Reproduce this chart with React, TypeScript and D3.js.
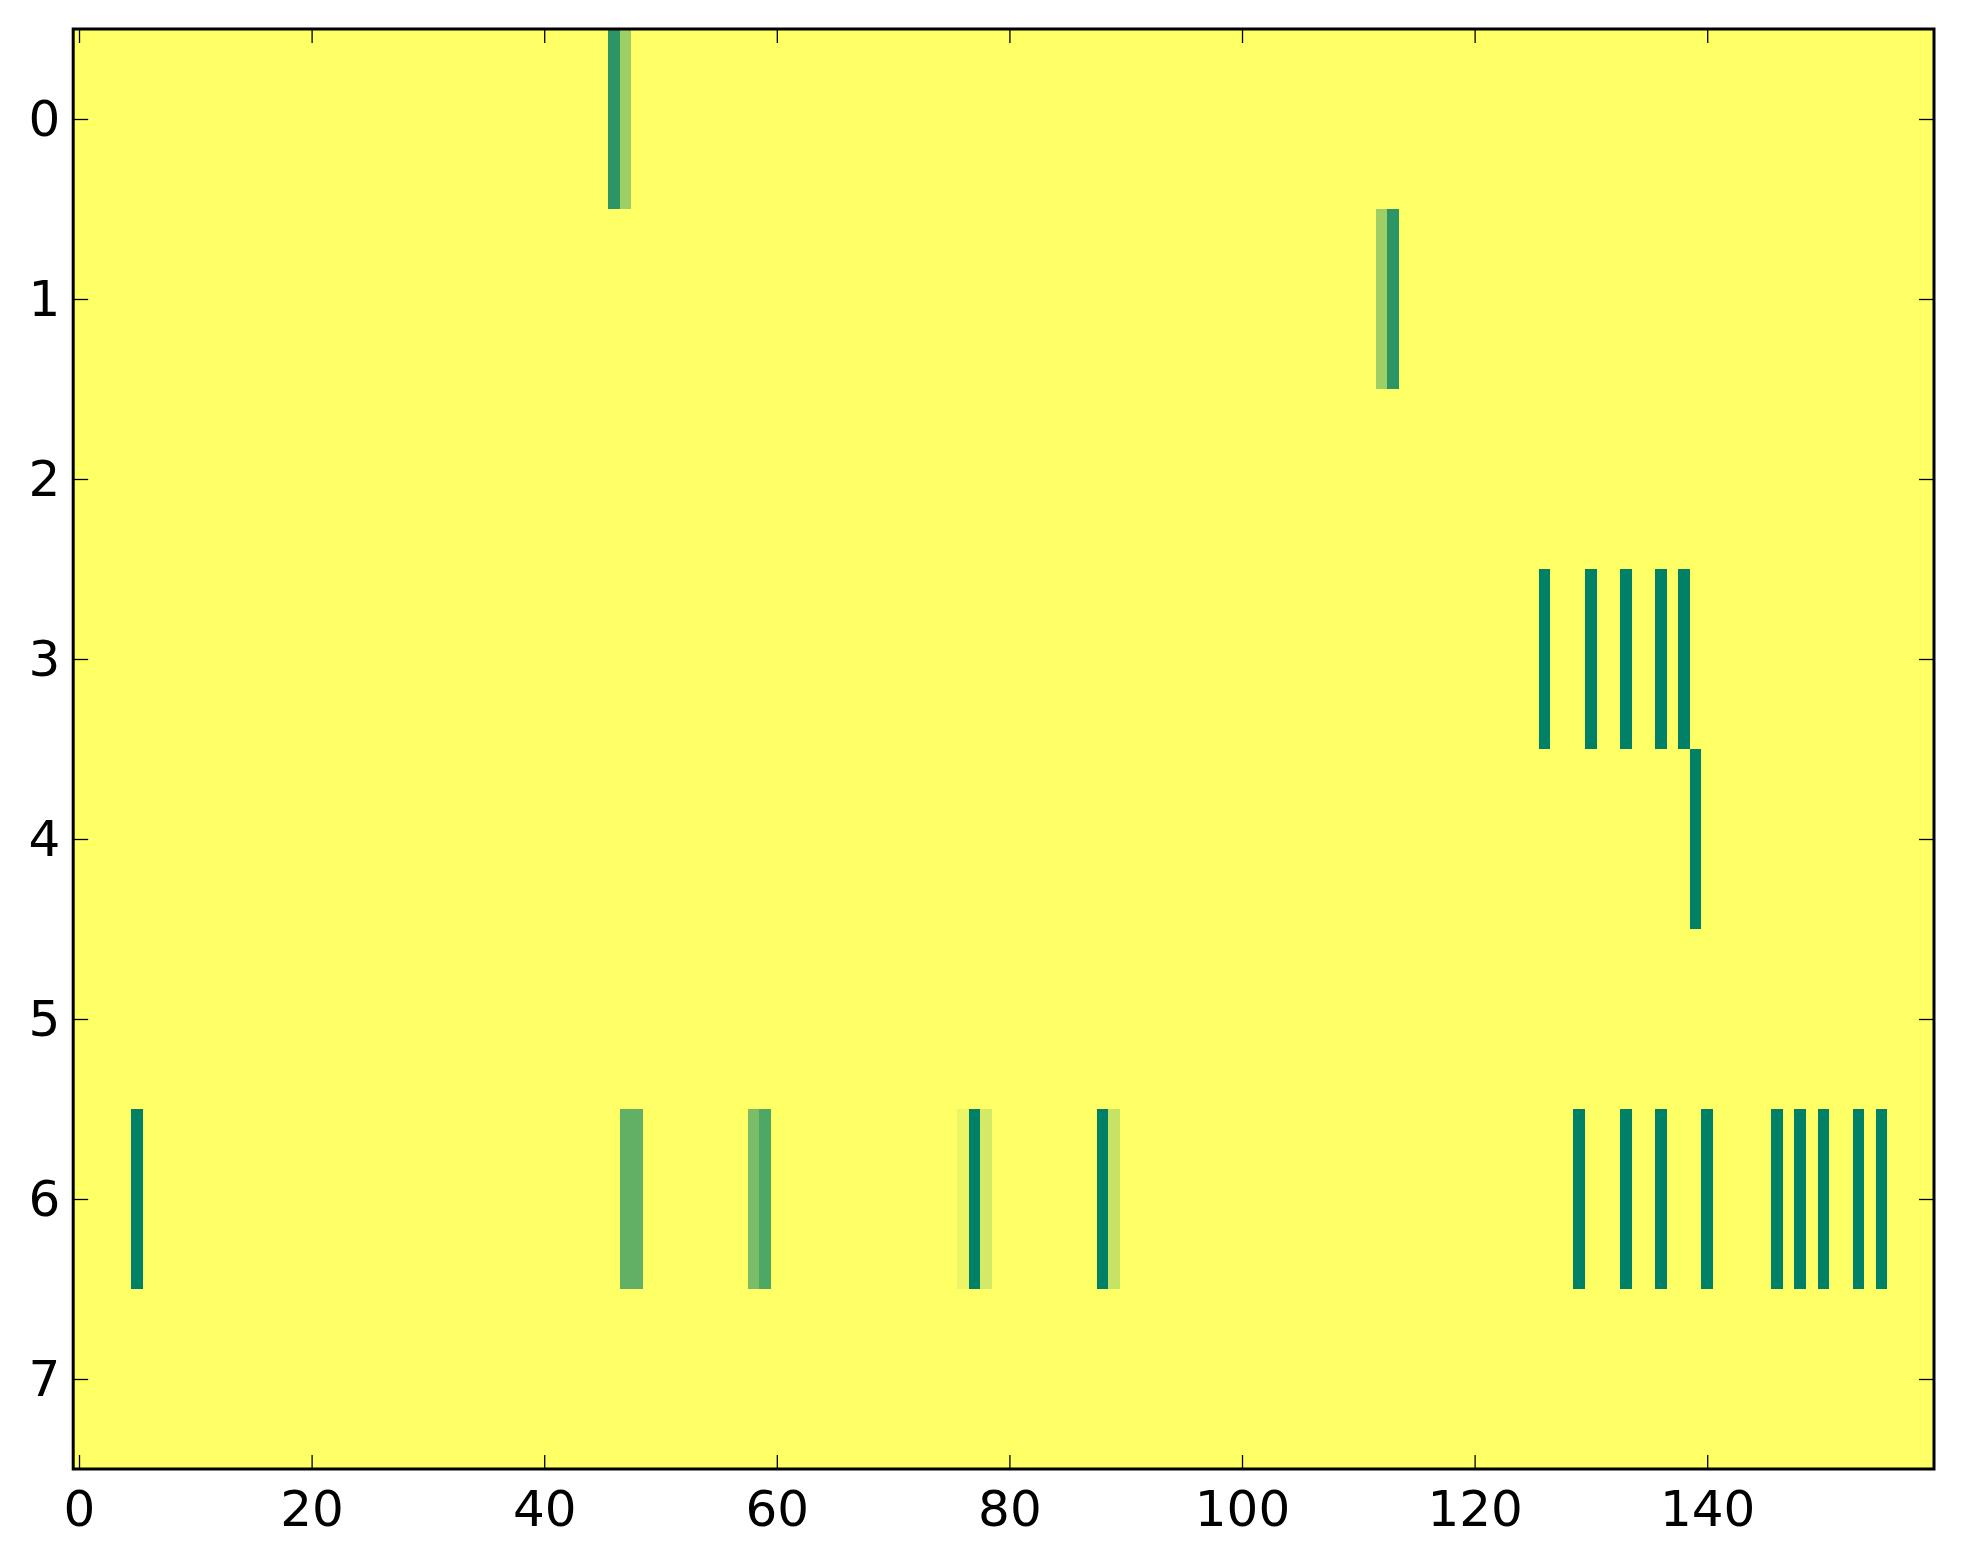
import React, { useEffect, useRef } from 'react';
import * as d3 from 'd3';

// sparse cells of the 8 x 160 matrix; every other cell sits at the max (1)
const nRows = 8;
const nCols = 160;
const cellRows = [0, 0, 1, 1, 3, 3, 3, 3, 3, 4, 6, 6, 6, 6, 6, 6, 6, 6, 6, 6, 6, 6, 6, 6, 6, 6, 6, 6, 6];
const cellCols = [46, 47, 112, 113, 126, 130, 133, 136, 138, 139, 5, 47, 48, 58, 59, 76, 77, 78, 88, 89, 129, 133, 136, 140, 146, 148, 150, 153, 155];
const cellValues = [0.17, 0.62, 0.62, 0.17, 0, 0, 0, 0, 0, 0, 0, 0.38, 0.38, 0.48, 0.31, 0.92, 0, 0.83, 0, 0.78, 0, 0, 0, 0, 0, 0, 0, 0, 0];
const xTicks = [0, 20, 40, 60, 80, 100, 120, 140];
const yTicks = [0, 1, 2, 3, 4, 5, 6, 7];

// matplotlib "summer" colormap
const summer = (v: number) =>
  d3.rgb(Math.round(255 * v), Math.round(255 * (0.5 + v / 2)), Math.round(255 * 0.4)).toString();

const App: React.FC = () => {
  const svgRef = useRef<SVGSVGElement | null>(null);

  useEffect(() => {
    const width = 1963;
    const height = 1564;
    const margin = { top: 29, right: 29, bottom: 95, left: 73.2 };

    const svg = d3.select(svgRef.current).attr('width', width).attr('height', height);
    svg.selectAll('*').remove();

    const x = d3.scaleLinear().domain([-0.5, nCols - 0.5]).range([margin.left, width - margin.right]);
    const y = d3.scaleLinear().domain([-0.5, nRows - 0.5]).range([margin.top, height - margin.bottom]);

    // build the full matrix
    const matrix: number[][] = d3.range(nRows).map(() => d3.range(nCols).map(() => 1));
    cellRows.forEach((r, i) => {
      matrix[r][cellCols[i]] = cellValues[i];
    });
    const cells = matrix.flatMap((row, r) => row.map((v, c) => ({ r, c, v })));

    svg.append('g')
      .selectAll('rect')
      .data(cells)
      .enter()
      .append('rect')
      .attr('x', (d) => x(d.c - 0.5))
      .attr('y', (d) => y(d.r - 0.5))
      .attr('width', x(1) - x(0) + 0.3)
      .attr('height', y(1) - y(0) + 0.3)
      .attr('fill', (d) => summer(d.v))
      .attr('shape-rendering', 'crispEdges');

    const font = 'DejaVu Sans, sans-serif';
    const x0 = margin.left;
    const x1 = width - margin.right;
    const y0 = margin.top;
    const y1 = height - margin.bottom;

    const styleAxis = (g: d3.Selection<SVGGElement, unknown, null, undefined>) => {
      g.select('.domain').remove();
      g.selectAll('line').attr('stroke', '#000').attr('stroke-width', 1.3);
      g.selectAll('text').attr('font-family', font).attr('font-size', 50).attr('fill', '#000');
    };

    svg.append('g')
      .attr('transform', `translate(0,${y1})`)
      .call(d3.axisBottom(x).tickValues(xTicks).tickSize(-14).tickSizeOuter(0).tickPadding(21))
      .call(styleAxis);

    svg.append('g')
      .attr('transform', `translate(0,${y0})`)
      .call(d3.axisTop(x).tickValues(xTicks).tickSize(-14).tickSizeOuter(0).tickFormat(() => ''))
      .call(styleAxis);

    svg.append('g')
      .attr('transform', `translate(${x0},0)`)
      .call(d3.axisLeft(y).tickValues(yTicks).tickSize(-15).tickSizeOuter(0).tickPadding(13))
      .call(styleAxis);

    svg.append('g')
      .attr('transform', `translate(${x1},0)`)
      .call(d3.axisRight(y).tickValues(yTicks).tickSize(-15).tickSizeOuter(0).tickFormat(() => ''))
      .call(styleAxis);

    svg.append('rect')
      .attr('x', x0)
      .attr('y', y0)
      .attr('width', x1 - x0)
      .attr('height', y1 - y0)
      .attr('fill', 'none')
      .attr('stroke', '#000')
      .attr('stroke-width', 3);
  }, []);

  return (
    <svg ref={svgRef} style={{ position: 'absolute', left: 0, top: 0, background: '#fff' }}></svg>
  );
};

export default App;
